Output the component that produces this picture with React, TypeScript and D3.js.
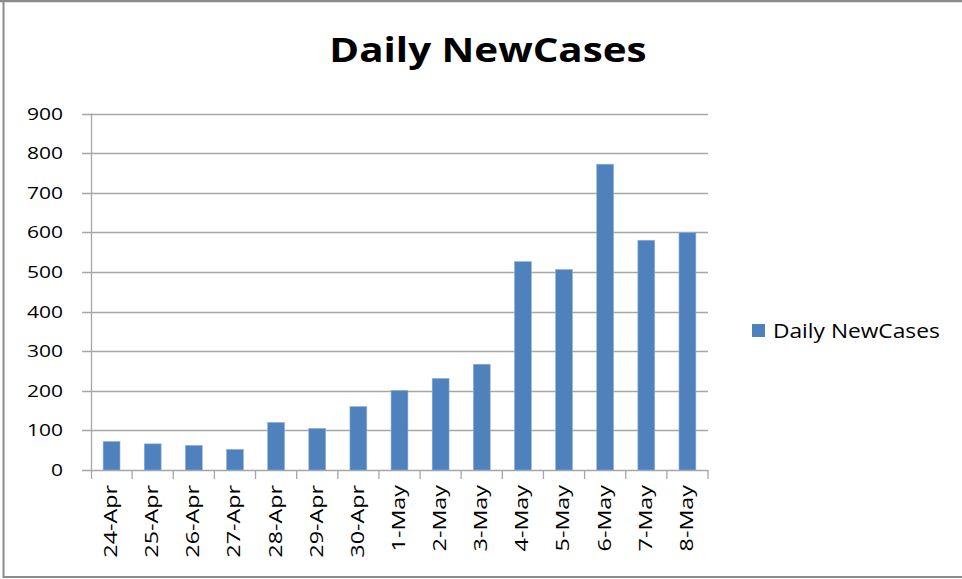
import React from "react";
import * as d3 from "d3";

const categories = ["24-Apr","25-Apr","26-Apr","27-Apr","28-Apr","29-Apr","30-Apr","1-May","2-May","3-May","4-May","5-May","6-May","7-May","8-May"];
const values = [72, 66, 62, 52, 120, 105, 160, 201, 231, 267, 526, 506, 772, 580, 599];
const yTicks = [0, 100, 200, 300, 400, 500, 600, 700, 800, 900];
const seriesName = "Daily NewCases";
const title = "Daily NewCases";

const W = 962, H = 579;
const left = 91, right = 708, top = 113.5, bottom = 470;
const font = "'Open Sans', sans-serif";

export default function App() {
  const x = d3.scaleBand<string>().domain(categories).range([left, right]).paddingInner(0.59).paddingOuter(0.295);
  const xTickScale = d3.scaleBand<string>().domain(categories).range([left, right]);
  const y = d3.scaleLinear().domain([0, 900]).range([bottom, top]);
  const grid = "#a6a6a6";
  return (
    <svg width={W} height={H} style={{ position: "absolute", left: 0, top: 0, background: "#fff" }}>
      <rect x={0} y={0} width={W} height={H} fill="#fff" />
      <line x1={0} x2={W} y1={1} y2={1} stroke="#8c8c8c" strokeWidth={2.5} />
      <line x1={3.5} x2={3.5} y1={0} y2={578} stroke="#8c8c8c" strokeWidth={2} />
      <line x1={3} x2={W} y1={577} y2={577} stroke="#8c8c8c" strokeWidth={2} />
      <text transform={`translate(488,61.5) scale(1.2,1)`} textAnchor="middle" fontFamily={font} fontWeight="bold" fontSize={33.6} fill="#000">{title}</text>
      {yTicks.map(t => (
        <g key={t}>
          <line x1={left - 9} x2={right} y1={Math.round(y(t)) + 0.5} y2={Math.round(y(t)) + 0.5} stroke={grid} strokeWidth={1.3} />
          <text transform={`translate(63,${y(t)}) scale(1.25,1)`} dy="0.36em" textAnchor="end" fontFamily={font} fontSize={16.8} fill="#000">{t}</text>
        </g>
      ))}
      <line x1={left + 0.5} x2={left + 0.5} y1={top} y2={bottom + 9} stroke={grid} strokeWidth={1.3} />
      {categories.map(c => (
        <line key={"t" + c} x1={xTickScale(c)! + xTickScale.bandwidth()} x2={xTickScale(c)! + xTickScale.bandwidth()} y1={bottom} y2={bottom + 9} stroke={grid} strokeWidth={1.3} />
      ))}
      {categories.map((c, i) => (
        <rect key={"b" + c} x={x(c)} y={y(values[i])} width={x.bandwidth()} height={bottom - y(values[i])} fill="#4F81BD" stroke="#8fb0d8" strokeWidth={0.6} />
      ))}
      {categories.map(c => {
        const cx = xTickScale(c)! + xTickScale.bandwidth() / 2 - 1;
        return (
          <text key={"l" + c} transform={`translate(${cx},485) rotate(-90) scale(1.31,1)`} dy="0.36em" textAnchor="end" fontFamily={font} fontSize={17.8} fill="#000">{c}</text>
        );
      })}
      <rect x={752} y={324} width={13} height={13} fill="#4F81BD" />
      <text transform="translate(773,338) scale(1.16,1)" fontFamily={font} fontSize={19.6} fill="#000">{seriesName}</text>
    </svg>
  );
}
